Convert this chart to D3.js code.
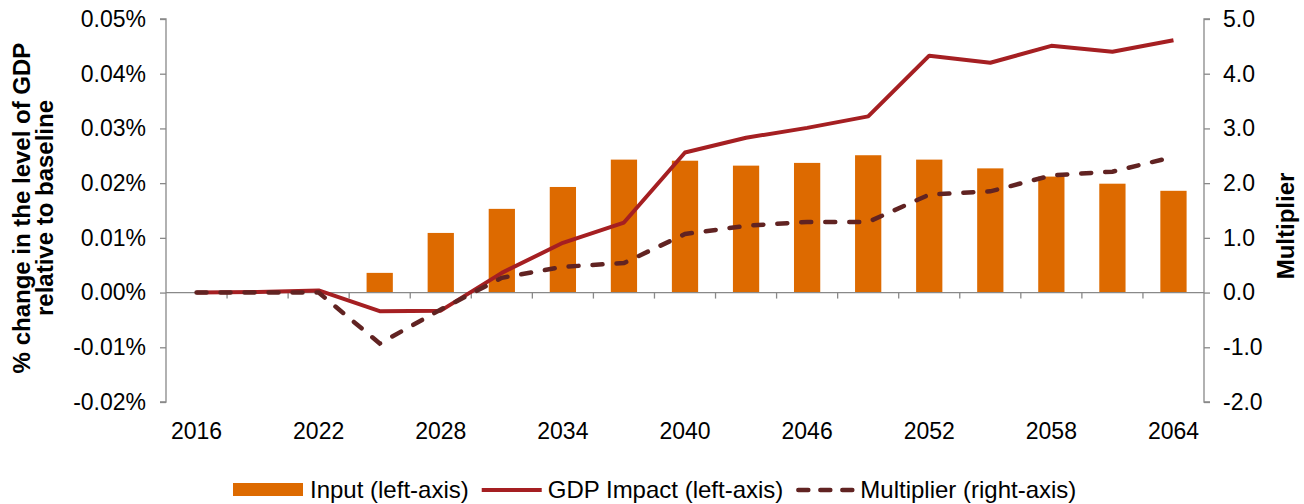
<!DOCTYPE html>
<html>
<head>
<meta charset="utf-8">
<script src="https://cdn.jsdelivr.net/npm/d3@7"></script>
<style>
  body { margin: 0; background: #fff; }
  text { font-family: "Liberation Sans", Arial, sans-serif; fill: #000; }
  .axis path, .axis line { stroke: #898989; stroke-width: 1.3; }
  .axis text { font-size: 23px; }
</style>
</head>
<body>
<div id="chart"></div>
<script>
var years = [2016, 2019, 2022, 2025, 2028, 2031, 2034, 2037, 2040, 2043, 2046, 2049, 2052, 2055, 2058, 2061, 2064];
var yearLabels = [2016, 2022, 2028, 2034, 2040, 2046, 2052, 2058, 2064];

// % change in GDP level (left axis), values in percent
var input = [0, 0, 0, 0.0036, 0.0109, 0.0153, 0.0193, 0.0243, 0.0241, 0.0232, 0.0237, 0.0251, 0.0243, 0.0227, 0.0212, 0.0199, 0.0186];
var gdpImpact = [0, 0.0001, 0.0004, -0.0034, -0.0033, 0.0036, 0.0091, 0.0128, 0.0256, 0.0283, 0.0301, 0.0322, 0.0433, 0.0420, 0.0451, 0.0440, 0.0461];
// right axis
var multiplier = [0, 0, 0, -0.93, -0.31, 0.27, 0.47, 0.54, 1.07, 1.22, 1.29, 1.29, 1.79, 1.85, 2.14, 2.21, 2.48];

var leftTicks = [-0.02, -0.01, 0, 0.01, 0.02, 0.03, 0.04, 0.05];
var rightTicks = [-2, -1, 0, 1, 2, 3, 4, 5];

var width = 1304, height = 504;
var pLeft = 166, pRight = 1204, pTop = 19, pBottom = 402;

var svg = d3.select("#chart").append("svg")
    .attr("width", width)
    .attr("height", height);

var x = d3.scaleBand().domain(years).range([pLeft, pRight]).paddingInner(0).paddingOuter(0),
    yL = d3.scaleLinear().domain([-0.02, 0.05]).range([pBottom, pTop]),
    yR = d3.scaleLinear().domain([-2, 5]).range([pBottom, pTop]);

var barW = x.bandwidth() * 0.43;

// plain hyphen for negatives, like the original
var fmt = function(f) { return function(d) { return f(d).replace("\u2212", "-"); }; };

// bars
svg.append("g").selectAll("rect")
    .data(input)
    .enter().append("rect")
    .attr("x", function(d, i) { return x(years[i]) + (x.bandwidth() - barW) / 2; })
    .attr("y", function(d) { return yL(Math.max(d, 0)); })
    .attr("width", barW)
    .attr("height", function(d) { return Math.abs(yL(d) - yL(0)); })
    .attr("fill", "#DD6A00");

drawAxis();

var cx = function(d, i) { return x(years[i]) + x.bandwidth() / 2; };

svg.append("path")
    .datum(gdpImpact)
    .attr("fill", "none")
    .attr("stroke", "#A51F22")
    .attr("stroke-width", 4)
    .attr("stroke-linejoin", "round")
    .attr("d", d3.line().x(cx).y(function(d) { return yL(d); }));

svg.append("path")
    .datum(multiplier)
    .attr("fill", "none")
    .attr("stroke", "#612322")
    .attr("stroke-width", 4.5)
    .attr("stroke-linecap", "round")
    .attr("stroke-dasharray", "10,14")
    .attr("d", d3.line().x(cx).y(function(d) { return yR(d); }));

drawLegend();

function drawAxis(){
    var yAxisL = d3.axisLeft(yL).tickValues(leftTicks).tickSize(6).tickPadding(14)
            .tickFormat(fmt(function(d) { return d3.format(".2f")(d) + "%"; })),
        yAxisR = d3.axisRight(yR).tickValues(rightTicks).tickSize(6).tickPadding(13)
            .tickFormat(fmt(d3.format(".1f")));

    var gl = svg.append("g").attr("class", "axis")
        .attr("transform", "translate(" + pLeft + ",0)")
        .call(yAxisL);
    gl.select(".domain").attr("d", "M-6," + pTop + "H0V" + pBottom + "H-6");

    var gr = svg.append("g").attr("class", "axis")
        .attr("transform", "translate(" + pRight + ",0)")
        .call(yAxisR);
    gr.select(".domain").attr("d", "M6," + pTop + "H0V" + pBottom + "H6");

    // zero line with category ticks
    var gx = svg.append("g").attr("class", "axis");
    gx.append("line")
        .attr("x1", pLeft).attr("x2", pRight)
        .attr("y1", yL(0)).attr("y2", yL(0));
    gx.selectAll(".xt")
        .data(years.slice(1))
        .enter().append("line")
        .attr("class", "xt")
        .attr("x1", function(d) { return x(d); })
        .attr("x2", function(d) { return x(d); })
        .attr("y1", yL(0)).attr("y2", yL(0) + 6);

    svg.append("g").selectAll("text")
        .data(yearLabels)
        .enter().append("text")
        .attr("x", function(d) { return x(d) + x.bandwidth() / 2; })
        .attr("y", 439)
        .attr("text-anchor", "middle")
        .style("font-size", "23px")
        .text(function(d) { return d; });

    var t = svg.append("text")
        .attr("transform", "translate(30,208) rotate(-90)")
        .attr("text-anchor", "middle")
        .style("font-size", "24px")
        .style("font-weight", "bold");
    t.append("tspan").attr("x", 0).attr("dy", 0).text("% change in the level of GDP");
    t.append("tspan").attr("x", 0).attr("dy", 23).text("relative to baseline");

    svg.append("text")
        .attr("transform", "translate(1294,226) rotate(-90)")
        .attr("text-anchor", "middle")
        .style("font-size", "24px")
        .style("font-weight", "bold")
        .text("Multiplier");
}

function drawLegend(){
    var lg = svg.append("g").attr("transform", "translate(0,490)");
    var xpos = 233;

    lg.append("rect").attr("x", xpos).attr("y", -7).attr("width", 70).attr("height", 13).attr("fill", "#DD6A00");
    var t1 = lg.append("text").attr("x", xpos + 77).attr("y", 8).style("font-size", "24px").text("Input (left-axis)");
    xpos = xpos + 77 + t1.node().getComputedTextLength() + 13;

    lg.append("line").attr("x1", xpos).attr("x2", xpos + 60).attr("y1", 0).attr("y2", 0)
        .attr("stroke", "#A51F22").attr("stroke-width", 4);
    var t2 = lg.append("text").attr("x", xpos + 66).attr("y", 8).style("font-size", "24px").text("GDP Impact (left-axis)");
    xpos = xpos + 66 + t2.node().getComputedTextLength() + 13;

    lg.append("line").attr("x1", xpos + 2).attr("x2", xpos + 58).attr("y1", 0).attr("y2", 0)
        .attr("stroke", "#612322").attr("stroke-width", 4.5)
        .attr("stroke-linecap", "round").attr("stroke-dasharray", "10,12");
    lg.append("text").attr("x", xpos + 64).attr("y", 8).style("font-size", "24px").text("Multiplier (right-axis)");
}
</script>
</body>
</html>
